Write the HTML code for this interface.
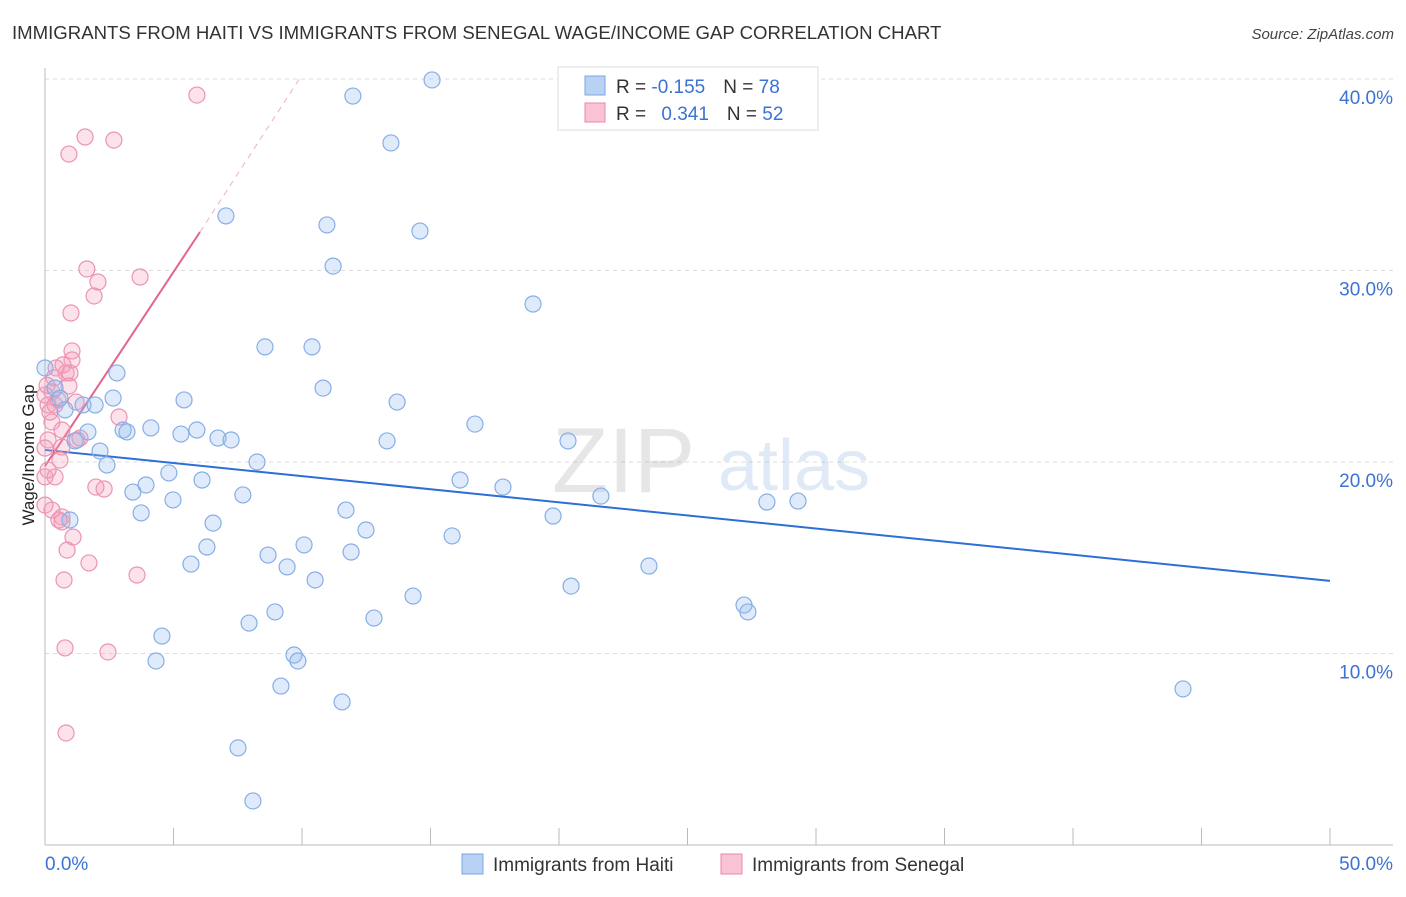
<!DOCTYPE html>
<html><head><meta charset="utf-8"><style>
body{margin:0;background:#fff;font-family:"Liberation Sans",sans-serif;}
svg text{font-family:"Liberation Sans",sans-serif;}
</style></head><body>
<svg id="chart" width="1406" height="892" xmlns="http://www.w3.org/2000/svg">
<text x="12" y="39" font-size="18.6" fill="#333">IMMIGRANTS FROM HAITI VS IMMIGRANTS FROM SENEGAL WAGE/INCOME GAP CORRELATION CHART</text>
<text x="1394" y="39" font-size="15" fill="#444" text-anchor="end" font-style="italic">Source: ZipAtlas.com</text>
<g id="grid"></g>
<g opacity="0.18">
<text x="552" y="492" font-size="92" font-family="Liberation Serif" fill="#777">ZIP</text>
<text x="718" y="490" font-size="72" fill="#5b8fd6">atlas</text>
</g>
<text transform="translate(34,455) rotate(-90)" font-size="17" fill="#222" text-anchor="middle">Wage/Income Gap</text>
<g id="lines"></g>
<g id="pts"></g>
<g>
<rect x="558" y="67" width="260" height="63" fill="#fff" stroke="#ddd"/>
<rect x="585" y="76" width="20" height="19" fill="#b9d2f4" stroke="#7aa7e0"/>
<rect x="585" y="103" width="20" height="19" fill="#f9c3d4" stroke="#e88aa8"/>
<text x="616" y="93" font-size="19" fill="#333">R = <tspan fill="#3b73d3">-0.155</tspan><tspan dx="18">N = </tspan><tspan fill="#3b73d3">78</tspan></text>
<text x="616" y="120" font-size="19" fill="#333">R = <tspan fill="#3b73d3" dx="10">0.341</tspan><tspan dx="18">N = </tspan><tspan fill="#3b73d3">52</tspan></text>
</g>
<g>
<rect x="462" y="854" width="21" height="20" fill="#b9d2f4" stroke="#7aa7e0"/>
<text x="493" y="871" font-size="19" fill="#333">Immigrants from Haiti</text>
<rect x="721" y="854" width="21" height="20" fill="#f9c3d4" stroke="#e88aa8"/>
<text x="752" y="871" font-size="19" fill="#333">Immigrants from Senegal</text>
</g>
</svg>
<script>
const yTicks=[10,20,30,40];
const yTickLabels=["10.0%","20.0%","30.0%","40.0%"];
const xTickLabels=["0.0%","50.0%"];
const haitiX=[15.06,11.98,13.46,7.04,10.97,14.59,11.21,18.99,8.56,10.39,2.80,10.82,0,0.39,0.58,2.65,5.41,13.70,1.48,1.95,0.78,16.73,4.12,3.04,3.19,5.29,5.91,1.67,6.73,7.24,13.31,20.35,1.17,2.14,2.41,8.25,4.82,6.11,16.15,3.93,17.82,3.42,7.70,4.98,21.63,28.09,29.30,11.71,3.74,19.77,0.97,6.54,12.49,15.84,6.30,10.08,11.91,8.68,9.42,5.68,23.50,10.51,20.47,14.32,8.95,7.94,12.80,27.20,27.35,4.55,9.69,9.84,4.32,9.18,44.28,11.56,7.51,8.09];
const haitiY=[39.95,39.11,36.66,32.85,32.38,32.06,30.23,28.25,26.01,26.01,24.65,23.86,24.91,23.86,23.34,23.34,23.24,23.13,22.98,22.98,22.72,21.98,21.78,21.67,21.57,21.46,21.67,21.57,21.25,21.15,21.10,21.10,21.10,20.57,19.84,20.00,19.43,19.06,19.06,18.80,18.69,18.43,18.28,18.02,18.22,17.91,17.96,17.49,17.34,17.18,16.97,16.81,16.45,16.14,15.56,15.67,15.30,15.14,14.52,14.67,14.57,13.84,13.52,13.00,12.17,11.59,11.85,12.53,12.17,10.91,9.92,9.61,9.61,8.30,8.15,7.47,5.07,2.30];
const senX=[5.91,1.56,2.68,0.93,1.63,3.70,2.06,1.91,1.01,1.05,1.05,0.43,0.82,0.97,0.35,0.93,0.27,0.12,0.39,1.21,2.88,0.27,0.66,0.12,1.25,0.66,0.58,0,0.39,1.98,2.30,0.27,0.66,0.54,0.66,1.09,0.86,1.71,3.58,0.74,0.78,2.45,0.82,0,0.51,0.19,0,0,1.36,0.12,0.70,0.08];
const senY=[39.16,36.97,36.81,36.08,30.08,29.66,29.40,28.67,27.78,25.80,25.33,24.91,24.65,24.65,24.39,23.97,23.66,22.98,22.98,23.13,22.35,22.09,21.67,21.15,21.15,20.78,20.10,19.22,19.22,18.69,18.59,17.49,17.13,16.97,16.87,16.08,15.40,14.73,14.10,13.84,10.29,10.08,5.85,23.50,23.24,22.61,20.73,17.75,21.25,19.58,25.07,24.00];
const haitiTrend=[0,20.63,50,13.79];
const senTrendSolid=[0,19.79,6.03,32.01];
const senTrendDash=[6.03,32.01,9.92,40.05];
const NS="http://www.w3.org/2000/svg";
const X0=45,X1=1330,Y0=845,PXPERPCT=19.15;
const sx=v=>X0+(X1-X0)*v/50;
const sy=v=>Y0-v*PXPERPCT;
function mk(tag,attrs,parent){const e=document.createElementNS(NS,tag);for(const k in attrs)e.setAttribute(k,attrs[k]);parent.appendChild(e);return e;}
const grid=document.getElementById('grid');
yTicks.forEach((t,i)=>{
 const l=mk('line',{x1:45,x2:1393,y1:sy(t),y2:sy(t),stroke:'#ddd','stroke-dasharray':'4,4'},grid);
 
 
 const tx=mk('text',{x:1393,y:sy(t)+25,'font-size':19,fill:'#3b73d3','text-anchor':'end'},grid);
 tx.textContent=yTickLabels[i];
 
 
});
const topGrid=mk('line',{x1:45,x2:1393,y1:79,y2:79,stroke:'#ddd','stroke-dasharray':'4,4'},grid);


mk('line',{x1:45,x2:45,y1:68,y2:845,stroke:'#bbb'},grid);
mk('line',{x1:45,x2:1393,y1:845,y2:845,stroke:'#bbb'},grid);
for(let i=0;i<=10;i++){
 const t=mk('line',{x1:sx(i*5),x2:sx(i*5),y1:828,y2:845,stroke:'#bbb'},grid);
 
 
}
const xl0=mk('text',{x:45,y:870,'font-size':19,fill:'#3b73d3'},grid);xl0.textContent=xTickLabels[0];


const xl1=mk('text',{x:1393,y:870,'font-size':19,fill:'#3b73d3','text-anchor':'end'},grid);xl1.textContent=xTickLabels[1];


const lines=document.getElementById('lines');
const pts=document.getElementById('pts');
senX.forEach((v,i)=>{
 const c=mk('circle',{cx:sx(v),cy:sy(senY[i]),r:8,fill:'rgba(245,160,188,0.3)',stroke:'#eb94b1','stroke-width':1.2},pts);
 
 
});
haitiX.forEach((v,i)=>{
 const c=mk('circle',{cx:sx(v),cy:sy(haitiY[i]),r:8,fill:'rgba(150,190,240,0.3)',stroke:'#86aee6','stroke-width':1.2},pts);
 
 
});
const h=mk('line',{x1:sx(haitiTrend[0]),y1:sy(haitiTrend[1]),x2:sx(haitiTrend[2]),y2:sy(haitiTrend[3]),stroke:'#2d6fd6','stroke-width':2},lines);


const s1=mk('line',{x1:sx(senTrendSolid[0]),y1:sy(senTrendSolid[1]),x2:sx(senTrendSolid[2]),y2:sy(senTrendSolid[3]),stroke:'#e5648f','stroke-width':2},lines);


const s2=mk('line',{x1:sx(senTrendDash[0]),y1:sy(senTrendDash[1]),x2:sx(senTrendDash[2]),y2:sy(senTrendDash[3]),stroke:'#eeb0c4','stroke-width':1,'stroke-dasharray':'6,5'},lines);


</script>
</body></html>
